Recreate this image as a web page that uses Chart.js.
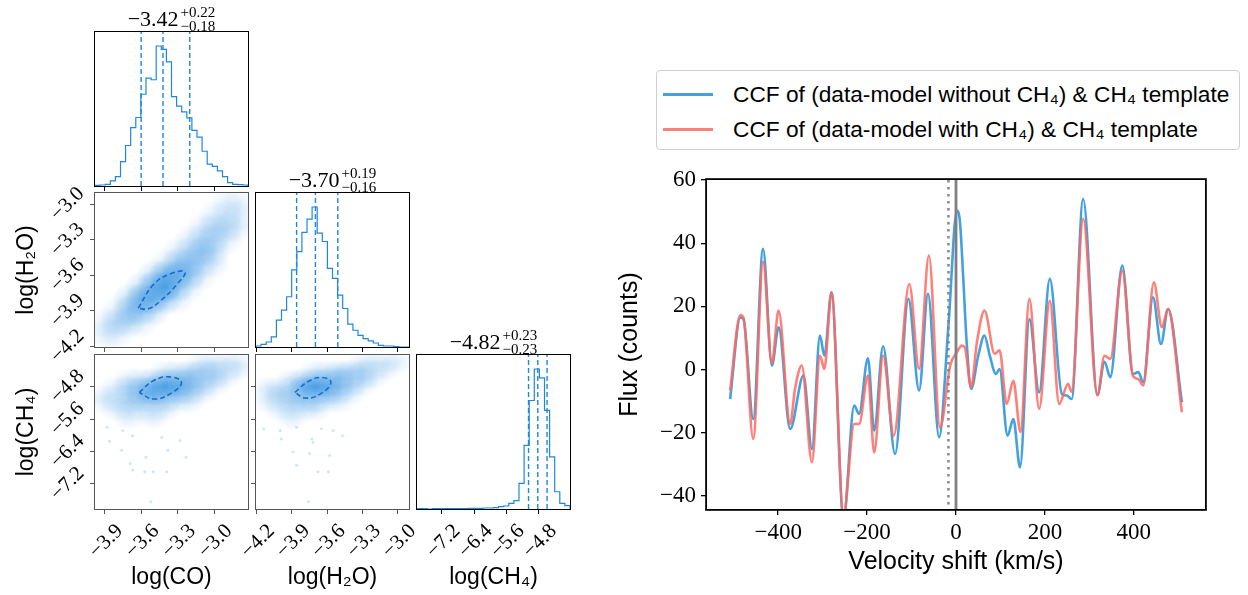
<!DOCTYPE html>
<html>
<head>
<meta charset="utf-8">
<script src="https://cdn.jsdelivr.net/npm/chart.js@4.4.1/dist/chart.umd.min.js"></script>
<style>
  body { margin: 0; background: #fff; width: 1248px; height: 595px; position: relative; overflow: hidden; }
  canvas { position: absolute; }
  #legend { position: absolute; left: 656px; top: 70px; width: 584px; height: 80px; box-sizing: border-box;
            border: 1px solid #d0d0d0; border-radius: 4px; background: #fff; }
  .row { position: absolute; left: 0; height: 30px; font-family: "Liberation Sans", "DejaVu Sans", sans-serif;
         font-size: 22.7px; line-height: 30px; white-space: nowrap; color: #000; }
  .row i { position: absolute; left: 6px; top: 14px; width: 50px; height: 3px; }
  .row span { position: absolute; left: 76px; }
</style>
</head>
<body>
<div id="legend"></div>
<script>
// ---------- CCF (right panel) ----------
const velNoCH4 = [-508, -485, -478, -456, -434, -414, -399, -373, -343, -324, -306, -296, -280, -253, -229, -218,
  -198, -184, -164, -137, -107, -83, -63, -38, -17, 2, 9, 16, 24, 34, 50, 64, 76, 90, 98, 116, 129, 144, 165,
  187, 211, 238, 249, 260, 286, 318, 334, 347, 374, 398, 410, 421, 443, 461, 477, 508];
const ccfNoCH4 = [-9.3, 16.5, 16, -15.6, 38.2, 1.3, 13.4, -18.8, -1.9, -25.1, 10.8, 4.4, 24.5, -47, -11.4, -14,
  3.6, -19.3, 7.4, -26.7, 22.4, -6.6, 24, -21.4, 13.9, 50.3, 46.6, 29.7, 8.6, -6.1, 4.4, 10.8, 4.4, -1.4, 0.2,
  -20.9, -15.6, -30.9, 16, -7.2, 28.7, -7.7, -8.2, -9.3, 54, -8, 2.5, -2.4, 32.9, -1.4, -0.8, -4, 22.9, 8.1,
  19.2, -10.3];
const velWithCH4 = [-508, -485, -478, -456, -434, -414, -399, -373, -362, -347, -324, -306, -296, -280, -253, -229,
  -218, -198, -184, -164, -140, -105, -83, -61, -36, -13, 2, 13, 20, 34, 47, 64, 87, 98, 114, 129, 145, 165, 187,
  211, 232, 252, 260, 286, 318, 334, 347, 374, 398, 410, 421, 445, 463, 477, 508];
const ccfWithCH4 = [-6.6, 17.3, 16.5, -21.9, 34, 2, 18.7, -17.2, -6.1, 1.3, -29.3, 4.4, 0.2, 24.5, -46, -17.2,
  -17.2, -1.9, -26.2, 4.4, -20.9, 27.1, 0.2, 36.1, -18.3, 1.3, 5.5, 7.6, 7, -5.6, 8.6, 18.7, 5, 6.1, -10.9, -3.5,
  -19.8, 22.4, -12.4, 21.8, -10.9, -4.5, -7, 47.7, -8.2, 4.4, 3.4, 31.3, -2, -3, -5, 27.6, 13.4, 19.2, -13.5];
const velTicks = [-400, -200, 0, 200, 400];
const fluxTicks = [-40, -20, 0, 20, 40, 60];
const restVel = 0;
const dottedVel = -17;

// ---------- corner plot ----------
const coRange = [-3.98, -2.72], h2oRange = [-4.205, -2.905], ch4Range = [-7.82, -4.02];
const coTicks = [-3.9, -3.6, -3.3, -3.0];
const h2oTicks = [-4.2, -3.9, -3.6, -3.3, -3.0];
const ch4Ticks = [-7.2, -6.4, -5.6, -4.8];
const coHist = [2, 3, 5, 15, 28, 72, 120, 173, 203, 272, 320, 315, 415, 405, 368, 265, 237, 220, 202, 165,
  145, 103, 65, 58, 45, 28, 10, 5, 4, 3];
const h2oHist = [3, 8, 15, 30, 80, 110, 150, 230, 285, 342, 382, 418, 340, 315, 235, 205, 155, 115, 68, 50,
  35, 25, 18, 12, 5, 3, 3, 1, 0, 0];
const ch4Hist = [1, 1, 0, 1, 1, 1, 1, 1, 1, 1, 2, 2, 2, 3, 3, 4, 7, 9, 17, 25, 77, 192, 327, 422, 395, 297,
  157, 52, 17, 10];
const coQuant = [-3.60, -3.42, -3.20];
const h2oQuant = [-3.86, -3.70, -3.51];
const ch4Quant = [-5.05, -4.82, -4.59];

// density cells (0 = empty, 5 = densest)
const coCells = [-3.9, -3.8, -3.7, -3.6, -3.5, -3.4, -3.3, -3.2, -3.1, -3.0, -2.9, -2.8];
const h2oCells = [-4.1, -4.0, -3.9, -3.8, -3.7, -3.6, -3.5, -3.4, -3.3, -3.2, -3.1, -3.0];
const h2oRows = [-3.0, -3.1, -3.2, -3.3, -3.4, -3.5, -3.6, -3.7, -3.8, -3.9, -4.0, -4.1];
const ch4Rows = [-4.2, -4.4, -4.6, -4.8, -5.0, -5.2, -5.4, -5.6];
const coH2oDensity = [
  [0, 0, 0, 0, 0, 0, 0, 0, 0, 0, 1, 1],
  [0, 0, 0, 0, 0, 0, 0, 0, 0, 1, 1, 1],
  [0, 0, 0, 0, 0, 0, 0, 0, 1, 2, 2, 1],
  [0, 0, 0, 0, 0, 0, 0, 1, 2, 2, 1, 0],
  [0, 0, 0, 0, 0, 0, 1, 2, 3, 2, 0, 0],
  [0, 0, 0, 0, 0, 1, 3, 3, 2, 1, 0, 0],
  [0, 0, 0, 0, 2, 4, 4, 3, 1, 0, 0, 0],
  [0, 0, 0, 2, 4, 5, 3, 1, 0, 0, 0, 0],
  [0, 0, 2, 4, 4, 3, 1, 0, 0, 0, 0, 0],
  [0, 1, 3, 3, 2, 0, 0, 0, 0, 0, 0, 0],
  [1, 2, 2, 1, 0, 0, 0, 0, 0, 0, 0, 0],
  [1, 1, 0, 0, 0, 0, 0, 0, 0, 0, 0, 0]];
const coCh4Density = [
  [0, 0, 0, 0, 0, 0, 0, 0, 1, 1, 1, 1],
  [0, 0, 0, 0, 0, 1, 1, 2, 2, 2, 1, 1],
  [0, 0, 1, 1, 2, 3, 3, 3, 2, 2, 1, 0],
  [0, 1, 2, 3, 4, 5, 4, 3, 2, 1, 0, 0],
  [1, 1, 2, 3, 4, 3, 3, 2, 1, 0, 0, 0],
  [1, 1, 2, 2, 2, 2, 1, 1, 0, 0, 0, 0],
  [0, 1, 1, 1, 1, 1, 0, 0, 0, 0, 0, 0],
  [0, 0, 1, 0, 1, 0, 0, 0, 0, 0, 0, 0]];
const h2oCh4Density = [
  [0, 0, 0, 0, 0, 0, 0, 0, 1, 1, 1, 1],
  [0, 0, 0, 0, 1, 1, 2, 2, 2, 1, 1, 0],
  [0, 0, 1, 2, 3, 3, 3, 2, 2, 1, 0, 0],
  [1, 1, 2, 4, 5, 4, 3, 2, 1, 0, 0, 0],
  [1, 2, 2, 3, 3, 3, 2, 1, 0, 0, 0, 0],
  [1, 1, 2, 2, 2, 1, 1, 0, 0, 0, 0, 0],
  [0, 1, 1, 1, 1, 0, 0, 0, 0, 0, 0, 0],
  [0, 0, 1, 0, 0, 0, 0, 0, 0, 0, 0, 0]];
// stray samples
const coCh4OutCO = [-3.88, -3.75, -3.67, -3.76, -3.56, -3.43, -3.38, -3.23, -3.69, -3.67, -3.57, -3.50, -3.39, -3.52, -3.28, -3.86];
const coCh4OutCH4 = [-5.80, -5.88, -6.01, -6.37, -6.54, -6.05, -6.37, -6.54, -6.70, -6.86, -6.90, -6.90, -6.90, -7.64, -6.13, -6.15];
const h2oCh4OutH2O = [-4.14, -4.00, -3.99, -3.86, -3.73, -3.72, -3.65, -3.55, -3.58, -3.89, -3.75, -3.86, -3.68, -3.59, -3.76, -3.47];
const h2oCh4OutCH4 = [-5.84, -5.88, -6.09, -5.80, -6.09, -6.17, -5.84, -5.88, -6.50, -6.41, -6.45, -6.74, -6.90, -6.90, -7.64, -6.01];
// 1-sigma contours
const coH2oContourCO = [-3.624, -3.50, -3.364, -3.24, -3.309, -3.432, -3.542, -3.624];
const coH2oContourH2O = [-3.877, -3.68, -3.589, -3.572, -3.68, -3.807, -3.883, -3.877];
const coCh4ContourCO = [-3.616, -3.50, -3.364, -3.268, -3.364, -3.50, -3.616];
const coCh4ContourCH4 = [-4.944, -4.657, -4.56, -4.70, -4.983, -5.106, -4.944];
const h2oCh4ContourH2O = [-3.874, -3.761, -3.647, -3.568, -3.661, -3.789, -3.874];
const h2oCh4ContourCH4 = [-4.94, -4.674, -4.576, -4.698, -4.984, -5.082, -4.94];

const SERIF = '"Liberation Serif", "DejaVu Serif", serif';
const SANS = '"Liberation Sans", "DejaVu Sans", sans-serif';
const HIST_BLUE = "rgb(31,136,222)";
const fmt = (v, d) => v.toFixed(d).replace("-", "\u2212");

Chart.defaults.animation = false;
Chart.defaults.events = [];
Chart.defaults.plugins.legend.display = false;
Chart.defaults.plugins.tooltip.enabled = false;

// frame, rotated y labels, titles, vertical lines
const decor = {
  id: "decor",
  afterDatasetsDraw(chart, args, o) {
    if (!o.vlines) return;
    const { ctx, chartArea: a } = chart;
    o.vlines.forEach(l => {
      const x = chart.scales.x.getPixelForValue(l.value);
      ctx.save();
      ctx.beginPath();
      ctx.strokeStyle = l.color;
      ctx.lineWidth = l.width;
      ctx.setLineDash(l.dash || []);
      ctx.moveTo(x, a.top);
      ctx.lineTo(x, a.bottom);
      ctx.stroke();
      ctx.restore();
    });
  },
  afterDraw(chart, args, o) {
    const { ctx, chartArea: a } = chart;
    ctx.save();
    ctx.strokeStyle = o.frameColor || "#000";
    ctx.lineWidth = o.frameWidth || 1;
    const h = ctx.lineWidth / 2;
    ctx.strokeRect(a.left - h, a.top - h, a.right - a.left + 2 * h, a.bottom - a.top + 2 * h);
    ctx.fillStyle = "#000";
    if (o.yTicks) {
      const s = chart.scales.y;
      ctx.font = "21px " + SERIF;
      ctx.textAlign = "center";
      ctx.textBaseline = "middle";
      o.yTicks.forEach(v => {
        const t = fmt(v, 1);
        const half = (ctx.measureText(t).width + 14) * 0.7071 / 2;
        ctx.save();
        ctx.translate(a.left - 9 - half, s.getPixelForValue(v));
        ctx.rotate(-Math.PI / 4);
        ctx.fillText(t, 0, 0);
        ctx.restore();
      });
    }
    if (o.title) {
      const q = o.title;
      ctx.textAlign = "left";
      ctx.textBaseline = "alphabetic";
      ctx.font = "22px " + SERIF;
      const w1 = ctx.measureText(q[0]).width;
      ctx.font = "15px " + SERIF;
      const w2 = Math.max(ctx.measureText(q[1]).width, ctx.measureText(q[2]).width);
      const x0 = (a.left + a.right) / 2 - (w1 + 2 + w2) / 2;
      ctx.font = "22px " + SERIF;
      ctx.fillText(q[0], x0, a.top - 6);
      ctx.font = "15px " + SERIF;
      ctx.fillText(q[1], x0 + w1 + 2, a.top - 15);
      ctx.fillText(q[2], x0 + w1 + 2, a.top - 1);
    }
    ctx.font = (o.titleSize || 23) + "px " + SANS;
    ctx.textAlign = "center";
    ctx.textBaseline = "middle";
    if (o.xTitle) ctx.fillText(o.xTitle, (a.left + a.right) / 2, a.bottom + o.xTitleGap);
    if (o.yTitle) {
      ctx.save();
      ctx.translate(o.yTitleX, (a.top + a.bottom) / 2);
      ctx.rotate(-Math.PI / 2);
      ctx.fillText(o.yTitle, 0, 0);
      ctx.restore();
    }
    ctx.restore();
  }
};

// ---------- corner panels ----------
const M = { l: 90, t: 30, r: 20, b: 86 };
const col = [95, 256, 417], row = [32, 193, 355], PW = 153, PH = 154;

function addCanvas(left, top, w, h) {
  const cv = document.createElement("canvas");
  cv.width = w; cv.height = h;
  cv.style.left = left + "px"; cv.style.top = top + "px";
  cv.style.width = w + "px"; cv.style.height = h + "px";
  document.body.appendChild(cv);
  return cv;
}

function xAxis(range, ticks, labels, color) {
  return {
    type: "linear", min: range[0], max: range[1],
    afterBuildTicks: s => { s.ticks = ticks.map(v => ({ value: v })); },
    afterFit: s => { s.height = M.b; s.paddingLeft = 0; s.paddingRight = 0; },
    grid: { drawOnChartArea: false, tickLength: 5, color: color, lineWidth: 1 },
    border: { display: false },
    ticks: { display: labels, autoSkip: false, minRotation: 45, maxRotation: 45, labelOffset: 15, padding: 5,
             color: "#000", font: { family: SERIF, size: 21 }, callback: v => fmt(v, 1) }
  };
}

function yAxis(range, ticks, color) {
  return {
    type: "linear", min: range[0], max: range[1],
    afterBuildTicks: s => { s.ticks = ticks.map(v => ({ value: v })); },
    afterFit: s => { s.width = M.l; s.paddingTop = 0; s.paddingBottom = 0; },
    grid: { drawOnChartArea: false, tickLength: 5, color: color, lineWidth: 1 },
    border: { display: false },
    ticks: { display: false }
  };
}

function histPanel(c, r, counts, range, ticks, labels, quant, title, extra) {
  const n = counts.length, w = (range[1] - range[0]) / n;
  const pts = [{ x: range[0], y: 0 }];
  counts.forEach((v, i) => pts.push({ x: range[0] + i * w, y: v }));
  pts.push({ x: range[1], y: counts[n - 1] }, { x: range[1], y: 0 });
  const ymax = Math.max(...counts) * 1.1;
  const datasets = [{ data: pts, showLine: true, stepped: true, borderColor: HIST_BLUE, borderWidth: 1.2, pointRadius: 0 }];
  quant.forEach(q => datasets.push({ data: [{ x: q, y: 0 }, { x: q, y: ymax }], showLine: true, borderColor: HIST_BLUE,
    borderWidth: 1.4, borderDash: [5, 3], pointRadius: 0 }));
  const cv = addCanvas(col[c] - M.l, row[r] - M.t, PW + M.l + M.r, PH + M.t + M.b);
  return new Chart(cv, {
    type: "scatter",
    data: { datasets: datasets },
    options: {
      responsive: false,
      layout: { padding: { left: M.l, top: M.t, right: M.r, bottom: 0 } },
      scales: { x: xAxis(range, ticks, labels, "#000"), y: { display: false, min: 0, max: ymax } },
      plugins: { decor: Object.assign({ frameColor: "#000", frameWidth: 1, title: title }, extra || {}) }
    },
    plugins: [decor]
  });
}

function blob(rx, ry, a) {
  const cv = document.createElement("canvas");
  cv.width = Math.ceil(rx * 2); cv.height = Math.ceil(ry * 2);
  const g = cv.getContext("2d");
  g.translate(cv.width / 2, cv.height / 2);
  g.scale(1, ry / rx);
  const grad = g.createRadialGradient(0, 0, 0, 0, 0, rx);
  grad.addColorStop(0, "rgba(40,140,225," + a + ")");
  grad.addColorStop(0.45, "rgba(40,140,225," + (a * 0.6) + ")");
  grad.addColorStop(1, "rgba(40,140,225,0)");
  g.fillStyle = grad;
  g.beginPath(); g.arc(0, 0, rx, 0, Math.PI * 2); g.fill();
  return cv;
}
const levelAlpha = [0, 0.13, 0.24, 0.36, 0.52, 0.7];

function scatterPanel(c, r, xr, yr, xt, yt, xCells, yRows, density, contourX, contourY, outX, outY, opts) {
  const cellW = PW / (xr[1] - xr[0]) * 0.1;
  const cellH = PH / (yr[1] - yr[0]) * Math.abs(yRows[1] - yRows[0]);
  const sprites = levelAlpha.map(a => blob(cellW * 1.4, cellH * 1.4, a));
  const cells = [];
  density.forEach((rowVals, i) => rowVals.forEach((d, j) => {
    if (d > 0) cells.push({ x: xCells[j], y: yRows[i], d: d });
  }));
  const datasets = [
    { data: contourX.map((v, i) => ({ x: v, y: contourY[i] })), showLine: true, tension: 0.45, borderColor: "rgb(22,110,200)",
      borderWidth: 1.6, borderDash: [5, 3], pointRadius: 0, order: 0 },
    { data: cells, pointStyle: ctx => sprites[ctx.raw.d], pointRadius: 4, order: 2 }
  ];
  if (outX) datasets.push({ data: outX.map((v, i) => ({ x: v, y: outY[i] })), pointRadius: 1.5, borderWidth: 0,
    backgroundColor: "rgba(40,140,225,0.22)", order: 1 });
  const cv = addCanvas(col[c] - M.l, row[r] - M.t, PW + M.l + M.r, PH + M.t + M.b);
  return new Chart(cv, {
    type: "scatter",
    data: { datasets: datasets },
    options: {
      responsive: false,
      layout: { padding: { left: 0, top: M.t, right: M.r, bottom: 0 } },
      scales: { x: xAxis(xr, xt, opts.xLabels, "#555"), y: yAxis(yr, yt, "#555") },
      plugins: { decor: Object.assign({ frameColor: "#555", frameWidth: 1 }, opts.decor) }
    },
    plugins: [decor]
  });
}

histPanel(0, 0, coHist, coRange, coTicks, false, coQuant, ["\u22123.42", "+0.22", "\u22120.18"]);
histPanel(1, 1, h2oHist, h2oRange, h2oTicks, false, h2oQuant, ["\u22123.70", "+0.19", "\u22120.16"]);
histPanel(2, 2, ch4Hist, ch4Range, ch4Ticks, true, ch4Quant, ["\u22124.82", "+0.23", "\u22120.23"],
  { xTitle: "log(CH\u2084)", xTitleGap: 69 });

scatterPanel(0, 1, coRange, h2oRange, coTicks, h2oTicks, coCells, h2oRows, coH2oDensity,
  coH2oContourCO, coH2oContourH2O, null, null,
  { xLabels: false, decor: { yTicks: h2oTicks, yTitle: "log(H\u2082O)", yTitleX: 22 } });
scatterPanel(0, 2, coRange, ch4Range, coTicks, ch4Ticks, coCells, ch4Rows, coCh4Density,
  coCh4ContourCO, coCh4ContourCH4, coCh4OutCO, coCh4OutCH4,
  { xLabels: true, decor: { yTicks: ch4Ticks, yTitle: "log(CH\u2084)", yTitleX: 22, xTitle: "log(CO)", xTitleGap: 69 } });
scatterPanel(1, 2, h2oRange, ch4Range, h2oTicks, ch4Ticks, h2oCells, ch4Rows, h2oCh4Density,
  h2oCh4ContourH2O, h2oCh4ContourCH4, h2oCh4OutH2O, h2oCh4OutCH4,
  { xLabels: true, decor: { xTitle: "log(H\u2082O)", xTitleGap: 69 } });

// ---------- CCF chart ----------
const C = { l: 107, t: 20, r: 20, b: 86 };
const ccfCanvas = addCanvas(707 - C.l, 180 - C.t, 498 + C.l + C.r, 329 + C.t + C.b);
const ccfChart = new Chart(ccfCanvas, {
  type: "scatter",
  data: {
    datasets: [
      { label: "CCF of (data-model without CH\u2084) & CH\u2084 template",
        data: velNoCH4.map((v, i) => ({ x: v, y: ccfNoCH4[i] })),
        showLine: true, borderColor: "rgba(52,152,219,0.92)", borderWidth: 2.6, pointRadius: 0,
        cubicInterpolationMode: "monotone", order: 2 },
      { label: "CCF of (data-model with CH\u2084) & CH\u2084 template",
        data: velWithCH4.map((v, i) => ({ x: v, y: ccfWithCH4[i] })),
        showLine: true, borderColor: "rgba(255,105,97,0.85)", borderWidth: 2.6, pointRadius: 0,
        cubicInterpolationMode: "monotone", order: 1 }
    ]
  },
  options: {
    responsive: false,
    layout: { padding: { left: 0, top: C.t, right: C.r, bottom: 0 } },
    scales: {
      x: {
        type: "linear", min: -560, max: 560,
        afterBuildTicks: s => { s.ticks = velTicks.map(v => ({ value: v })); },
        afterFit: s => { s.height = C.b; s.paddingLeft = 0; s.paddingRight = 0; },
        grid: { drawOnChartArea: false, tickLength: 6, color: "#000", lineWidth: 1.3 },
        border: { display: false },
        ticks: { maxRotation: 0, autoSkip: false, padding: 4, color: "#000", font: { family: SERIF, size: 23 },
                 callback: v => fmt(v, 0) }
      },
      y: {
        type: "linear", min: -44.1, max: 60,
        afterBuildTicks: s => { s.ticks = fluxTicks.map(v => ({ value: v })); },
        afterFit: s => { s.width = C.l; s.paddingTop = 0; s.paddingBottom = 0; },
        grid: { drawOnChartArea: false, tickLength: 6, color: "#000", lineWidth: 1.3 },
        border: { display: false },
        ticks: { padding: 5, color: "#000", font: { family: SERIF, size: 23 }, callback: v => fmt(v, 0) }
      }
    },
    plugins: {
      decor: {
        frameColor: "#000", frameWidth: 1.8, titleSize: 25,
        xTitle: "Velocity shift (km/s)", xTitleGap: 53,
        yTitle: "Flux (counts)", yTitleX: 30,
        vlines: [
          { value: dottedVel, color: "rgba(128,128,128,0.9)", width: 2.6, dash: [2.6, 4.4] },
          { value: restVel, color: "rgb(128,128,128)", width: 2.8 }
        ]
      }
    }
  },
  plugins: [decor]
});

// legend built from the chart datasets
const legendEl = document.getElementById("legend");
ccfChart.data.datasets.forEach((ds, i) => {
  const r = document.createElement("div");
  r.className = "row";
  r.style.top = (8 + i * 35) + "px";
  r.innerHTML = '<i style="background:' + ds.borderColor + '"></i><span></span>';
  r.querySelector("span").textContent = ds.label;
  legendEl.appendChild(r);
});
</script>
</body>
</html>
